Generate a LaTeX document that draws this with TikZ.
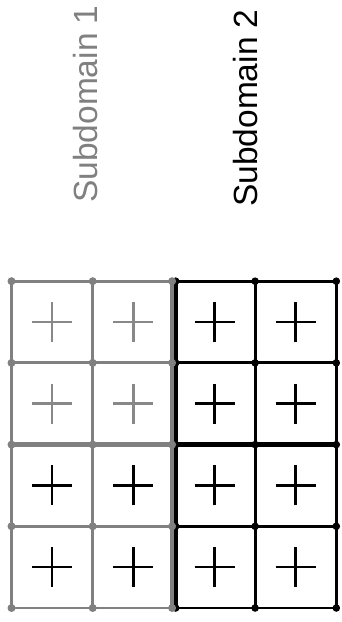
\documentclass[tikz,border=0pt]{standalone}
\usepackage{fontspec}
\setmainfont{Liberation Sans}

\begin{document}
\begin{tikzpicture}[x=1pt, y=1pt]
  % Fix the page to the size of the original sketch
  \useasboundingbox (0,0) rectangle (342,622);

  % ==========================================
  % 1. COLOURS & SETUP
  % ==========================================
  \definecolor{subGray}{RGB}{128,128,128}  % subdomain 1
  \definecolor{crossGray}{RGB}{136,136,136} % faded cell marks

  \def\cw{81.2}  % cell width
  \def\ch{81.7}  % cell height
  \def\xo{11.5}  % left edge of the mesh
  \def\yo{14}    % bottom edge of the mesh
  \def\arm{20}   % half size of a cell mark
  \def\sh{1.8}   % shift of the doubled interface line

  \tikzset{
    meshline/.style={line width=2.8pt},
    ifaceline/.style={line width=4.8pt},
    cellmark/.style={line width=2.5pt},
    subtitle/.style={rotate=90, anchor=base west, inner sep=0pt,
      font=\fontsize{33.5}{33.5}\selectfont}
  }

  % ==========================================
  % 2. SUBDOMAIN 2 (black, right half)
  % ==========================================
  \foreach \i in {3,4}
    \draw[meshline, black] (\xo+\i*\cw, \yo) -- (\xo+\i*\cw, \yo+4*\ch);
  \foreach \j in {0,1,3,4}
    \draw[meshline, black] (\xo+2*\cw+\sh, \yo+\j*\ch) -- (\xo+4*\cw, \yo+\j*\ch);
  \draw[ifaceline, black] (\xo+2*\cw+\sh, \yo+2*\ch) -- (\xo+4*\cw, \yo+2*\ch);
  \draw[line width=3.6pt, black] (\xo+2*\cw+\sh, \yo) -- (\xo+2*\cw+\sh, \yo+4*\ch);

  \foreach \i in {2,3,4}
    \foreach \j in {0,...,4} {
      \pgfmathsetmacro{\dx}{\i==2 ? \sh : 0}
      \fill[black] (\xo+\i*\cw+\dx, \yo+\j*\ch) circle (3.8);
    }

  % ==========================================
  % 3. SUBDOMAIN 1 (gray, left half)
  % ==========================================
  \foreach \i in {0,1}
    \draw[meshline, subGray] (\xo+\i*\cw, \yo) -- (\xo+\i*\cw, \yo+4*\ch);
  \foreach \j in {0,1,3,4}
    \draw[meshline, subGray] (\xo, \yo+\j*\ch) -- (\xo+2*\cw-\sh, \yo+\j*\ch);
  \draw[ifaceline, subGray] (\xo, \yo+2*\ch) -- (\xo+2*\cw-\sh, \yo+2*\ch);
  \draw[line width=3.8pt, subGray] (\xo+2*\cw-\sh, \yo) -- (\xo+2*\cw-\sh, \yo+4*\ch);

  \foreach \i in {0,1,2}
    \foreach \j in {0,...,4} {
      \pgfmathsetmacro{\dx}{\i==2 ? -\sh : 0}
      \fill[subGray] (\xo+\i*\cw+\dx, \yo+\j*\ch) circle (4);
    }

  % ==========================================
  % 4. CELL MARKS
  % ==========================================
  \foreach \i in {0,...,3}
    \foreach \j in {0,...,3} {
      % top left block is faded
      \pgfmathsetmacro{\faded}{(\i<2 && \j>1) ? 1 : 0}
      \ifdim\faded pt>0.5pt
        \colorlet{markcol}{crossGray}
      \else
        \colorlet{markcol}{black}
      \fi
      \coordinate (c) at (\xo+\i*\cw+0.5*\cw, \yo+\j*\ch+0.5*\ch);
      \draw[cellmark, markcol] ([xshift=-\arm pt]c) -- ([xshift=\arm pt]c);
      \draw[cellmark, markcol] ([yshift=-\arm pt]c) -- ([yshift=\arm pt]c);
    }

  % ==========================================
  % 5. TITLES
  % ==========================================
  \node[subtitle, text=subGray] (sub1) at (97, 419) {Subdomain 1};
  \node[subtitle, text=black] (sub2) at (257, 415) {Subdomain 2};

\end{tikzpicture}
\end{document}
